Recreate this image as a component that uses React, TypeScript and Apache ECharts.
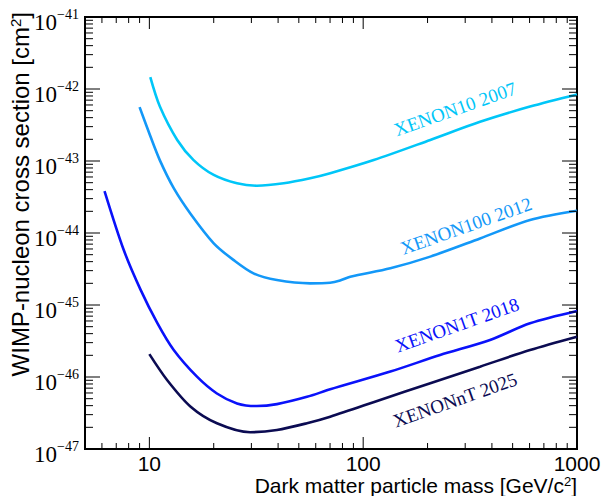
import React, { useEffect, useRef } from "react";
import * as echarts from "echarts";

// WIMP mass [GeV/c^2] and cross-section limits [cm^2]
const massX10 = [10.1, 11.2, 13.5, 16.1, 20, 25.7, 31.8, 42.5, 56.5, 70.1, 112, 206, 352, 603, 1000];
const sigX10 = [1.46e-42, 5.7e-43, 1.96e-43, 1.03e-43, 6.4e-44, 4.9e-44, 4.54e-44, 4.9e-44, 5.75e-44, 6.76e-44, 1.03e-43, 1.96e-43, 3.5e-43, 5.7e-43, 8.4e-43];

const massX100 = [9.0, 10.1, 11.2, 13.0, 15.6, 20, 24.8, 30.7, 39.5, 56.5, 70, 78, 87, 134, 206, 352, 603, 1000];
const sigX100 = [5.6e-43, 2.22e-43, 1.02e-43, 4.2e-44, 1.84e-44, 7.2e-45, 4.2e-45, 2.75e-45, 2.22e-45, 2.0e-45, 2.04e-45, 2.19e-45, 2.47e-45, 3.24e-45, 4.7e-45, 8.4e-45, 1.52e-44, 2.04e-44];

const massX1T = [6.17, 7.59, 9.08, 10.9, 13.0, 16.7, 20.7, 25.7, 31.8, 39.5, 54.6, 70.1, 134, 229, 392, 603, 1000];
const sigX1T = [3.83e-44, 5.8e-45, 1.65e-45, 5.6e-46, 2.37e-46, 1.01e-46, 5.9e-47, 4.3e-47, 3.95e-47, 4.2e-47, 5.3e-47, 6.75e-47, 1.19e-46, 2.02e-46, 3.27e-46, 5.57e-46, 8.26e-46];

const massXnT = [10.0, 12.1, 15.6, 20.7, 29.6, 39.5, 54.6, 70.1, 120, 206, 352, 603, 1000];
const sigXnT = [2.08e-46, 9.1e-47, 3.87e-47, 2.28e-47, 1.71e-47, 1.84e-47, 2.28e-47, 2.81e-47, 4.8e-47, 8.2e-47, 1.39e-46, 2.37e-46, 3.63e-46];

const seriesNames = ["XENON10 2007", "XENON100 2012", "XENON1T 2018", "XENONnT 2025"];
const seriesColors = ["#00c6f8", "#1398f8", "#0a12fa", "#0b0b52"];

const xMajorTicks = [10, 100, 1000];
const yMajorDecades = [-47, -46, -45, -44, -43, -42, -41];
const xLabelValues = [10, 100, 1000];

const X_MIN = 5;
const X_MAX = 1000;
const Y_MIN = -47;
const Y_MAX = -41;

function toLog(ms: number[], ss: number[]) {
  return ms.map((m, i) => [Math.log10(m), Math.log10(ss[i])]);
}

function buildTicks() {
  const ticks: number[][] = [];
  for (let d = 0; d <= 3; d++) {
    for (let k = 1; k <= 9; k++) {
      const v = k * Math.pow(10, d);
      if (v < X_MIN || v > X_MAX) continue;
      const major = xMajorTicks.indexOf(v) >= 0;
      const len = major ? 12 : 6;
      ticks.push([Math.log10(v), 0, len]);
      ticks.push([Math.log10(v), 1, len]);
    }
  }
  for (const dec of yMajorDecades) {
    ticks.push([dec, 2, 15]);
    ticks.push([dec, 3, 15]);
    if (dec === Y_MAX) continue;
    for (let k = 2; k <= 9; k++) {
      const v = dec + Math.log10(k);
      ticks.push([v, 2, 8]);
      ticks.push([v, 3, 8]);
    }
  }
  return ticks;
}

export default function App() {
  const ref = useRef<HTMLDivElement>(null);
  useEffect(() => {
    document.body.style.margin = "0";
    if (!ref.current) return;
    const chart = echarts.init(ref.current, null, { renderer: "svg" });
    const xMinLog = Math.log10(X_MIN);
    const xMaxLog = Math.log10(X_MAX);
    const datasets = [
      toLog(massX10, sigX10),
      toLog(massX100, sigX100),
      toLog(massX1T, sigX1T),
      toLog(massXnT, sigXnT),
    ];
    const lineSeries = datasets.map((d, i) => ({
      type: "line",
      name: seriesNames[i],
      data: d,
      smooth: 0.3,
      showSymbol: false,
      symbol: "none",
      lineStyle: { color: seriesColors[i], width: 2.6 },
      z: 3,
    }));
    const tickSeries = {
      type: "custom",
      silent: true,
      clip: false,
      z: 5,
      data: buildTicks(),
      renderItem: (params: any, api: any) => {
        const pos = api.value(0);
        const side = api.value(1);
        const len = api.value(2);
        let x1 = 0, y1 = 0, x2 = 0, y2 = 0;
        if (side === 0) {
          const p = api.coord([pos, Y_MIN]);
          x1 = p[0]; y1 = p[1]; x2 = p[0]; y2 = p[1] - len;
        } else if (side === 1) {
          const p = api.coord([pos, Y_MAX]);
          x1 = p[0]; y1 = p[1]; x2 = p[0]; y2 = p[1] + len;
        } else if (side === 2) {
          const p = api.coord([xMinLog, pos]);
          x1 = p[0]; y1 = p[1]; x2 = p[0] + len; y2 = p[1];
        } else {
          const p = api.coord([xMaxLog, pos]);
          x1 = p[0]; y1 = p[1]; x2 = p[0] - len; y2 = p[1];
        }
        return {
          type: "line",
          shape: { x1, y1, x2, y2 },
          style: { stroke: "#000", lineWidth: 1 },
        };
      },
    };

    const labelFont = "'Liberation Serif', 'DejaVu Serif', serif";
    const labelPositions = [
      { x: 455, y: 109 },
      { x: 466, y: 226 },
      { x: 457, y: 325 },
      { x: 455, y: 400 },
    ];
    const curveLabels = seriesNames.map((n, i) => ({
      type: "text",
      x: labelPositions[i].x,
      y: labelPositions[i].y,
      rotation: 0.34,
      style: {
        text: n,
        fill: seriesColors[i],
        font: `19px ${labelFont}`,
        align: "center",
        verticalAlign: "middle",
      },
      z: 10,
    }));

    chart.setOption({
      animation: false,
      backgroundColor: "#fff",
      grid: {
        left: 85,
        right: 28,
        top: 17,
        bottom: 47,
        show: true,
        borderColor: "#000",
        borderWidth: 2,
        backgroundColor: "transparent",
      },
      xAxis: {
        type: "value",
        min: xMinLog,
        max: xMaxLog,
        axisLine: { show: false },
        axisTick: { show: false },
        splitLine: { show: false },
        axisLabel: {
          customValues: xLabelValues.map((v) => Math.log10(v)),
          formatter: (v: number) => String(Math.round(Math.pow(10, v))),
          fontFamily: "'Liberation Sans', Arial, sans-serif",
          fontSize: 21,
          color: "#000",
          margin: 4,
          showMinLabel: true,
          showMaxLabel: true,
        },
      },
      yAxis: {
        type: "value",
        min: Y_MIN,
        max: Y_MAX,
        interval: 1,
        axisLine: { show: false },
        axisTick: { show: false },
        splitLine: { show: false },
        axisLabel: {
          margin: 6,
          padding: [10, 0, 0, 0],
          formatter: (v: number) => `{b|10}{s|\u2212${Math.round(-v)}}`,
          rich: {
            b: { fontFamily: labelFont, fontSize: 23, lineHeight: 30, color: "#000" },
            s: { fontFamily: labelFont, fontSize: 14, lineHeight: 14, verticalAlign: "top", color: "#000" },
          },
        },
      },
      graphic: [
        {
          type: "text",
          x: 577,
          y: 485,
          style: {
            text: "Dark matter particle mass [GeV/c{s|2}]",
            font: "21px 'Liberation Sans', Arial, sans-serif",
            fill: "#000",
            align: "right",
            verticalAlign: "middle",
            rich: {
              s: { fontSize: 13, verticalAlign: "top", lineHeight: 14, fontFamily: "'Liberation Sans', Arial, sans-serif" },
            },
          },
        },
        {
          type: "text",
          x: 20,
          y: 12,
          rotation: Math.PI / 2,
          style: {
            text: "WIMP-nucleon cross section [cm{s|2}]",
            font: "24px 'Liberation Sans', Arial, sans-serif",
            fill: "#000",
            align: "right",
            verticalAlign: "middle",
            rich: {
              s: { fontSize: 15, verticalAlign: "top", lineHeight: 15, fontFamily: "'Liberation Sans', Arial, sans-serif" },
            },
          },
        },
        ...curveLabels,
      ],
      series: [...lineSeries, tickSeries],
    });
    return () => chart.dispose();
  }, []);
  return <div ref={ref} style={{ width: 605, height: 496 }} />;
}
